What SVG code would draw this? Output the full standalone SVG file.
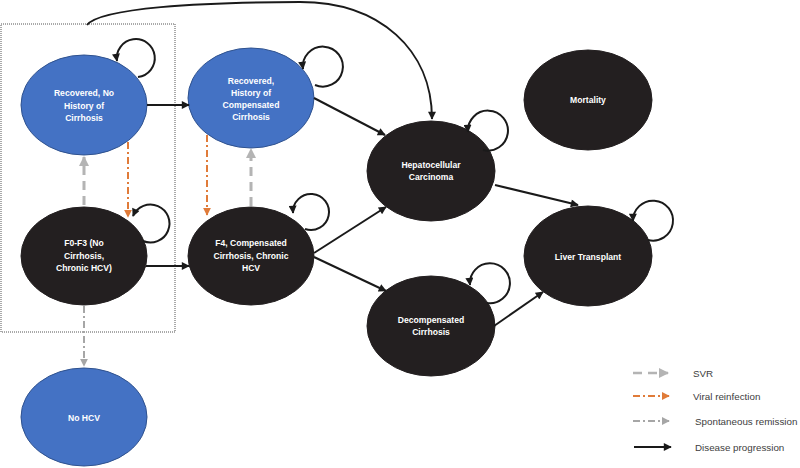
<svg xmlns="http://www.w3.org/2000/svg" width="800" height="468" viewBox="0 0 800 468">
<defs>
<style>
.blue{fill:#4472C4;stroke:#2F528F;stroke-width:1}
.dark{fill:#231F20;stroke:#231F20;stroke-width:1}
.lbl{font-family:"Liberation Sans",Arial,sans-serif;font-weight:bold;font-size:8.6px;fill:#ffffff;text-anchor:middle}
.leg{font-family:"Liberation Sans",Arial,sans-serif;font-size:9.8px;fill:#404040}
.prog{fill:none;stroke:#1a1a1a;stroke-width:2;marker-end:url(#ah)}
.svr{fill:none;stroke:#b4b4b4;stroke-width:3;stroke-dasharray:9 6;marker-end:url(#ahg)}
.vir{fill:none;stroke:#E07B39;stroke-width:2;stroke-dasharray:7 3 2 3;marker-end:url(#aho)}
.spo{fill:none;stroke:#a6a6a6;stroke-width:2;stroke-dasharray:7 3 2 3;marker-end:url(#ahs)}
</style>
<marker id="ah" viewBox="0 0 10 10" refX="9" refY="5" markerWidth="9" markerHeight="8" markerUnits="userSpaceOnUse" orient="auto"><path d="M0,0 L10,5 L0,10 z" fill="#1a1a1a"/></marker>
<marker id="ahg" viewBox="0 0 10 10" refX="9" refY="5" markerWidth="10" markerHeight="10" markerUnits="userSpaceOnUse" orient="auto"><path d="M0,0 L10,5 L0,10 z" fill="#b4b4b4"/></marker>
<marker id="aho" viewBox="0 0 10 10" refX="9" refY="5" markerWidth="8" markerHeight="8" markerUnits="userSpaceOnUse" orient="auto"><path d="M0,0 L10,5 L0,10 z" fill="#E07B39"/></marker>
<marker id="ahs" viewBox="0 0 10 10" refX="9" refY="5" markerWidth="8" markerHeight="8" markerUnits="userSpaceOnUse" orient="auto"><path d="M0,0 L10,5 L0,10 z" fill="#a6a6a6"/></marker>
</defs>
<rect width="800" height="468" fill="#ffffff"/>
<rect x="1" y="24" width="174" height="308" fill="none" stroke="#555555" stroke-width="1" stroke-dasharray="1 1"/>

<g id="n-recovered-no-cirrhosis"><ellipse class="blue" cx="84" cy="105" rx="63" ry="50"/>
<text class="lbl" x="84" y="96">Recovered, No</text><text class="lbl" x="84" y="109">History of</text><text class="lbl" x="84" y="121">Cirrhosis</text></g>
<g id="n-recovered-compensated"><ellipse class="blue" cx="251" cy="98" rx="63" ry="50"/>
<text class="lbl" x="251" y="84">Recovered,</text><text class="lbl" x="251" y="96">History of</text><text class="lbl" x="251" y="108">Compensated</text><text class="lbl" x="251" y="120">Cirrhosis</text></g>
<g id="n-f0f3"><ellipse class="dark" cx="84" cy="256" rx="63" ry="49"/>
<text class="lbl" x="84" y="246">F0-F3 (No</text><text class="lbl" x="84" y="259">Cirrhosis,</text><text class="lbl" x="84" y="271">Chronic HCV)</text></g>
<g id="n-f4"><ellipse class="dark" cx="251" cy="256" rx="63" ry="49"/>
<text class="lbl" x="251" y="246">F4, Compensated</text><text class="lbl" x="251" y="259">Cirrhosis, Chronic</text><text class="lbl" x="251" y="271">HCV</text></g>
<g id="n-nohcv"><ellipse class="blue" cx="84" cy="417" rx="63" ry="49"/>
<text class="lbl" x="84" y="421">No HCV</text></g>
<g id="n-hcc"><ellipse class="dark" cx="431" cy="171" rx="64" ry="50"/>
<text class="lbl" x="431" y="168">Hepatocellular</text><text class="lbl" x="431" y="180">Carcinoma</text></g>
<g id="n-mortality"><ellipse class="dark" cx="588" cy="100" rx="64" ry="50"/>
<text class="lbl" x="588" y="103">Mortality</text></g>
<g id="n-transplant"><ellipse class="dark" cx="588" cy="256" rx="64" ry="50"/>
<text class="lbl" x="588" y="260">Liver Transplant</text></g>
<g id="n-decomp"><ellipse class="dark" cx="431" cy="326" rx="64" ry="50"/>
<text class="lbl" x="431" y="323">Decompensated</text><text class="lbl" x="431" y="335">Cirrhosis</text></g>

<g id="connectors">
<path class="prog" d="M147,105 L189,105"/>
<path class="prog" d="M146,266 L189,266"/>
<path class="prog" d="M314,98 L385,135"/>
<path class="prog" d="M314,253 L386,207"/>
<path class="prog" d="M314,257 L386,291"/>
<path class="prog" d="M495,185 L578,205"/>
<path class="prog" d="M494,326 L543,292"/>
<path class="prog" d="M87,25 C100,8 200,2 300,2 C380,2 432,50 432,119"/>
<path class="prog" d="M138,77 A19,19 0 1 0 117,61"/>
<path class="prog" d="M315,85 A20,20 0 1 0 303,69"/>
<path class="prog" d="M143,241 A19,19 0 1 0 133,216"/>
<path class="prog" d="M305,229 A18,18 0 1 0 293,213"/>
<path class="prog" d="M483,150 A20,20 0 1 0 468,132"/>
<path class="prog" d="M487,303 A20,20 0 1 0 470,285"/>
<path class="prog" d="M648,240 A20,20 0 1 0 633,221"/>
<path class="svr" d="M84,205 L84,157"/>
<path class="svr" d="M251,206 L251,149"/>
<path class="vir" d="M128,142 L128,217"/>
<path class="vir" d="M207,135 L207,215"/>
<path class="spo" d="M84,306 L84,366"/>
</g>

<g id="legend">
<path class="svr" d="M633,373 L668,373" style="stroke-width:2.5"/>
<path class="vir" d="M633,396 L669,396"/>
<path class="spo" d="M633,421 L669,421"/>
<path class="prog" d="M634,447 L671,447"/>
<text class="leg" x="693" y="377">SVR</text>
<text class="leg" x="693" y="400">Viral reinfection</text>
<text class="leg" x="695" y="425">Spontaneous remission</text>
<text class="leg" x="695" y="451">Disease progression</text>
</g>
</svg>
